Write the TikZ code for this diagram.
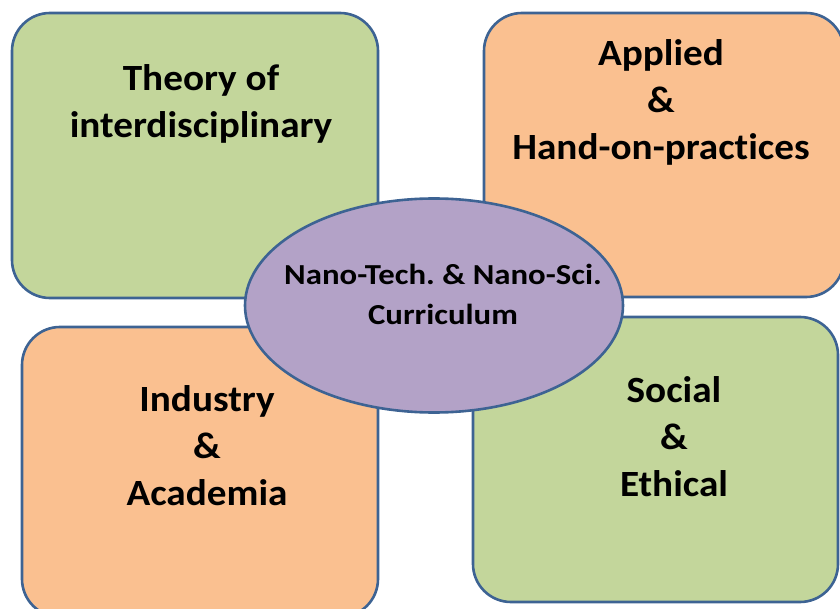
\documentclass[tikz,border=0pt]{standalone}
\usepackage{fontspec}
\setmainfont[Ligatures=NoCommon]{Carlito}
\newfontfamily\panelfont[Ligatures=NoCommon, FakeStretch=1.06]{Carlito}
\newfontfamily\hubfont[Ligatures=NoCommon, FakeStretch=1.13]{Carlito}
\usetikzlibrary{shapes.geometric}

\definecolor{leaf}{HTML}{C3D69B}
\definecolor{peach}{HTML}{FAC090}
\definecolor{lilac}{HTML}{B3A2C7}
\definecolor{rim}{HTML}{3D6393}

\tikzset{
  panel/.style={draw=rim, line width=2.6pt, rounded corners=38pt, inner sep=0pt},
  hub/.style={ellipse, draw=rim, line width=2.6pt, fill=lilac, inner sep=0pt,
    minimum width=378pt, minimum height=214pt},
  panellabel/.style={align=center, inner sep=0pt,
    font=\panelfont\bfseries\fontsize{37}{47}\selectfont},
  hublabel/.style={align=center, inner sep=0pt,
    font=\hubfont\bfseries\frenchspacing\fontsize{29}{40}\selectfont}
}

\begin{document}
\begin{tikzpicture}[x=1pt,y=-1pt]
\useasboundingbox (0,0) rectangle (840,609);
% four corner panels
\node [panel, fill=leaf, minimum width=366pt, minimum height=285pt]
  (theory) at (195,155.5) {};
\node [panel, fill=peach, minimum width=360pt, minimum height=284pt]
  (applied) at (664,155) {};
\node [panel, fill=peach, minimum width=356pt, minimum height=290pt]
  (industry) at (200,472) {};
\node [panel, fill=leaf, minimum width=365pt, minimum height=285pt]
  (social) at (655.5,459.5) {};
% panel texts
\node [panellabel] (theorytext) at (201,104) {Theory of\\interdisciplinary};
\node [panellabel] (appliedtext) at (661,102) {Applied\\\&\\Hand-on-practices};
\node [panellabel] (industrytext) at (207,446) {Industry\\\&\\Academia};
\node [panellabel] (socialtext) at (674,437) {Social\\\&\\Ethical};
% centre
\node [hub] (core) at (434,305.5) {};
\node [hublabel] (coretext) at (443,294) {Nano-Tech. \& Nano-Sci.\\Curriculum};
\end{tikzpicture}
\end{document}
